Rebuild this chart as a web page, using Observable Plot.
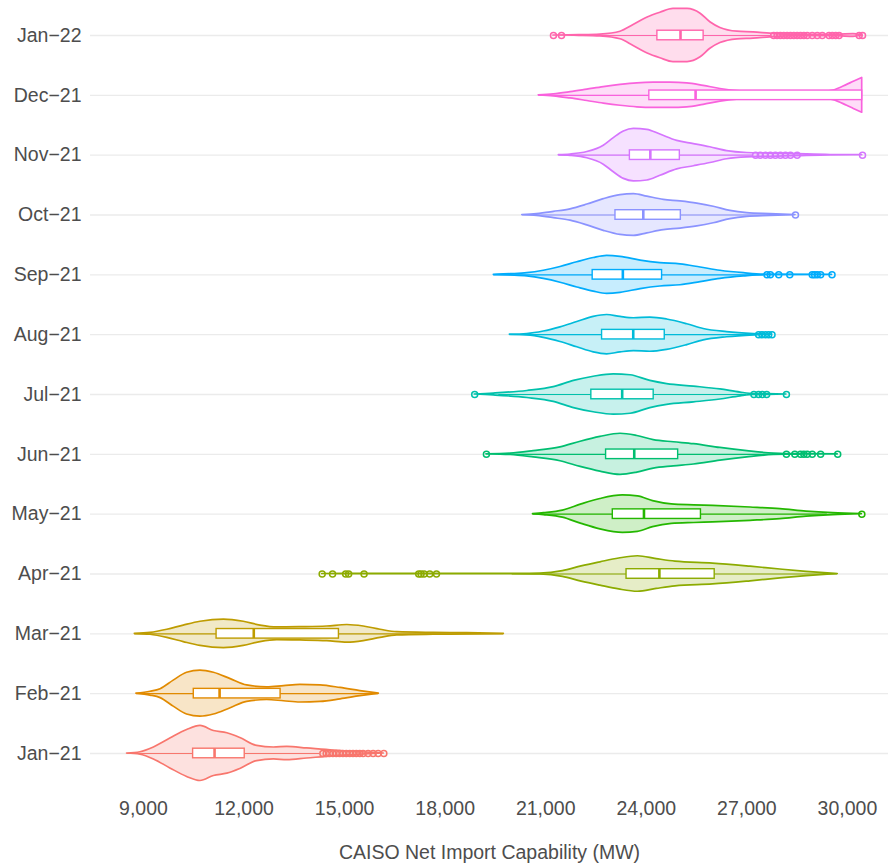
<!DOCTYPE html>
<html>
<head>
<meta charset="utf-8">
<script src="https://cdn.jsdelivr.net/npm/d3@7"></script>
<script src="https://cdn.jsdelivr.net/npm/@observablehq/plot@0.6"></script>
<style>
  body { margin: 0; background: white; }
</style>
</head>
<body>
<div id="chart"></div>
<script>
// months, bottom (index 0) to top (index 12)
const months = ["Jan−21", "Feb−21", "Mar−21", "Apr−21", "May−21", "Jun−21", "Jul−21",
  "Aug−21", "Sep−21", "Oct−21", "Nov−21", "Dec−21", "Jan−22"];
const colors = ["#F8766D", "#E18A00", "#BE9C00", "#8CAB00", "#24B700", "#00BE70", "#00C1AB",
  "#00BBDA", "#00ACFC", "#8B93FF", "#D575FE", "#F962DD", "#FF65AC"];

// violin outline: MW values and relative density (widest ≈ 29)
const violinX = [
  [8510, 8910, 9310, 9800, 10300, 10700, 11100, 11500, 11890, 12390, 12890, 13290, 13880, 14680, 15470, 16170],
  [8790, 9210, 9510, 9900, 10300, 10700, 11100, 11600, 12090, 12690, 13190, 13680, 14280, 14880, 15470, 16020],
  [8740, 9210, 9710, 10200, 10700, 11400, 11990, 12490, 12990, 13680, 14480, 15080, 15570, 16070, 16570, 17660, 18650, 19750],
  [14330, 15000, 16000, 17000, 18000, 19000, 20000, 20840, 21510, 22070, 22630, 23190, 23750, 24310, 24870, 25990, 27110, 28000, 28780, 29710],
  [20620, 20950, 21510, 22070, 22630, 23300, 23750, 24200, 24760, 25430, 25990, 27110, 28000, 28780, 29570, 30430],
  [19230, 19950, 20640, 21440, 22040, 22630, 23230, 23730, 24220, 24820, 25420, 26210, 27010, 27800, 28150, 28800, 29710],
  [18880, 19450, 20450, 21240, 21840, 22430, 23030, 23530, 24120, 24620, 25420, 26210, 26810, 27210, 27600, 28180],
  [19930, 20450, 20940, 21440, 21940, 22430, 22830, 23230, 23630, 24120, 24620, 25220, 25710, 26410, 27210, 27750],
  [19450, 19950, 20450, 20940, 21440, 21940, 22430, 22830, 23230, 23830, 24420, 25020, 25620, 26210, 26910, 27500, 29540],
  [20300, 20740, 21240, 21740, 22240, 22730, 23230, 23630, 24030, 24520, 25020, 25520, 26010, 26510, 27010, 27700, 28450],
  [21390, 21740, 22240, 22730, 23030, 23330, 23630, 24030, 24420, 24920, 25420, 25910, 26410, 27010, 27700, 28500, 29500, 30440],
  [20790, 21240, 21740, 22240, 22730, 23230, 23730, 24220, 24720, 25220, 25710, 26210, 26710, 27700, 28700, 29300, 29590, 29990, 30190, 30440],
  [21230, 22000, 22630, 23230, 23620, 24040, 24420, 24810, 25230, 25620, 25910, 26210, 26720, 27200, 27700, 28210, 28900, 29700, 30180, 30450]
];
const violinW = [
  [0, 1.3, 6.3, 15.7, 24.7, 29, 23.7, 21.3, 16.3, 8, 6.3, 7, 5.3, 3, 1.3, 0],
  [0, 2, 4.7, 13.7, 22, 24.3, 22, 15.3, 8.7, 6.7, 8, 9.3, 8.7, 6, 2.7, 0],
  [0, 1, 4.3, 8.7, 12.7, 15, 12.7, 8.7, 6.7, 7, 7.7, 9.3, 7.7, 4.3, 1.7, 1, 0.7, 0],
  [0, 0.1, 0.1, 0.15, 0.1, 0.1, 0.2, 0.5, 3, 8, 12.3, 16.3, 18.7, 15.7, 13, 11, 7.7, 4.7, 2.3, 0],
  [0, 1, 3.7, 10.3, 16, 19.7, 18.7, 13.7, 10.3, 9.3, 8.7, 7, 5.3, 2.7, 1, 0],
  [0, 0.7, 3.3, 7.3, 13.3, 18.3, 21.7, 19.3, 15, 12.7, 10.7, 6.7, 3.3, 0.7, 0.3, 0.2, 0],
  [0, 1, 3.7, 7.7, 14.3, 18.7, 21.3, 20.3, 14.3, 11, 8.3, 5.3, 2, 0.5, 0.3, 0],
  [0, 0.7, 3.3, 7.7, 13.3, 18.7, 20.7, 18.7, 17.3, 18, 16, 11, 6, 2.7, 0.7, 0],
  [0, 0.7, 1.7, 4.3, 8.3, 13.3, 17.7, 20, 19, 15, 12.3, 11, 7.7, 4.3, 1.7, 0.3, 0],
  [0, 1, 3.3, 6, 11, 16.7, 21, 22, 19.3, 16, 14.3, 12, 8.7, 4.3, 2, 1, 0],
  [0, 0.7, 3.3, 10, 18, 25, 27.7, 26.7, 21.7, 15, 11.7, 8.3, 4.3, 2.3, 1.7, 1, 0.2, 0],
  [0, 1, 3.3, 6, 8.7, 11, 12.7, 13.3, 13.3, 12.7, 10, 6.7, 4.5, 3, 2.8, 3.5, 5, 11, 14.3, 18.3],
  [0, 0.3, 1, 4, 11, 19, 24, 28, 28, 23, 14, 8, 4, 3.3, 2, 1, 0.7, 0.7, 1.5, 0]
];

// boxplot statistics (MW)
const whiskLo = [8510, 8790, 8740, 20000, 20620, 19950, 19600, 19930, 19450, 20300, 21390, 20790, 22300];
const q1 = [10480, 10500, 11180, 23410, 23000, 22800, 22360, 22680, 22400, 23080, 23510, 24090, 24330];
const med = [11120, 11270, 12290, 24390, 23930, 23640, 23280, 23610, 23300, 23910, 24120, 25470, 25020];
const q3 = [12020, 13090, 14830, 26040, 25630, 24950, 24220, 24550, 24470, 25030, 25000, 30440, 25710];
const whiskHi = [14250, 16020, 19750, 29710, 29400, 28150, 27000, 27300, 27500, 27900, 27200, 30440, 27750];

const outliers = [
  [14350, 14450, 14550, 14650, 14750, 14850, 14950, 15050, 15150, 15250, 15350, 15450, 15550, 15700, 15850, 16000, 16170],
  [],
  [],
  [14330, 14640, 15030, 15120, 15580, 17210, 17280, 17370, 17540, 17740],
  [30430],
  [19230, 28180, 28430, 28600, 28700, 28800, 28950, 29200, 29710],
  [18880, 27210, 27350, 27460, 27590, 28180],
  [27350, 27450, 27550, 27650, 27750],
  [27600, 27700, 27950, 28280, 28950, 29020, 29100, 29200, 29540],
  [28450],
  [27260, 27400, 27550, 27700, 27850, 28000, 28150, 28300, 28500, 30450],
  [],
  [21230, 21470, 27800, 27900, 28000, 28100, 28200, 28300, 28400, 28500, 28600, 28700, 28800,
    28950, 29100, 29250, 29450, 29550, 29650, 29750, 30350, 30450]
];

const xTicks = [9000, 12000, 15000, 18000, 21000, 24000, 27000, 30000];

const violin = months.flatMap((m, i) => violinX[i].map((x, j) => ({month: m, i, x, w: violinW[i][j]})));
const boxes = months.map((m, i) => ({month: m, i, lo: whiskLo[i], q1: q1[i], med: med[i], q3: q3[i], hi: whiskHi[i]}));
const dots = months.flatMap((m, i) => outliers[i].map(x => ({month: m, i, x})));

const half = 0.46 / 29; // widest violin spans ~0.46 of a row each side
const boxH = 0.08;

let chart = Plot.plot({
  width: 888,
  height: 864,
  marginLeft: 90,
  marginRight: 0,
  marginTop: 0,
  marginBottom: 75,
  style: {
    background: "white",
    color: "#4d4d4d",
    fontFamily: "'Liberation Sans', Arial, sans-serif",
    fontSize: "19.5px"
  },
  x: {
    domain: [7419, 31225],
    ticks: xTicks,
    tickFormat: d3.format(","),
    tickSize: 0,
    tickPadding: 12,
    label: "CAISO Net Import Capability (MW)",
    labelAnchor: "center",
    labelArrow: "none",
    labelOffset: 69
  },
  y: {
    domain: [-0.602, 12.585],
    ticks: d3.range(13),
    tickFormat: i => months[i],
    tickSize: 0,
    tickPadding: 9,
    label: null
  },
  color: {domain: months, range: colors},
  marks: [
    Plot.gridY(d3.range(13), {stroke: "#ebebeb", strokeOpacity: 1, strokeWidth: 1.3}),
    Plot.areaY(violin, {
      x: "x",
      y1: d => d.i - d.w * half,
      y2: d => d.i + d.w * half,
      z: "month",
      fill: "month",
      fillOpacity: 0.22,
      stroke: "month",
      strokeWidth: 1.7,
      curve: "monotone-x"
    }),
    Plot.ruleY(boxes, {y: "i", x1: "lo", x2: "hi", stroke: "month", strokeWidth: 1.2}),
    Plot.rect(boxes, {
      x1: "q1", x2: "q3",
      y1: d => d.i - boxH, y2: d => d.i + boxH,
      fill: "white", stroke: "month", strokeWidth: 1.4
    }),
    Plot.ruleX(boxes, {x: "med", y1: d => d.i - boxH, y2: d => d.i + boxH, stroke: "month", strokeWidth: 2.6}),
    Plot.dot(dots, {x: "x", y: "i", r: 3, stroke: "month", strokeWidth: 1.5, fill: "none"})
  ]
});
d3.select("#chart").append(() => chart);
</script>
</body>
</html>
